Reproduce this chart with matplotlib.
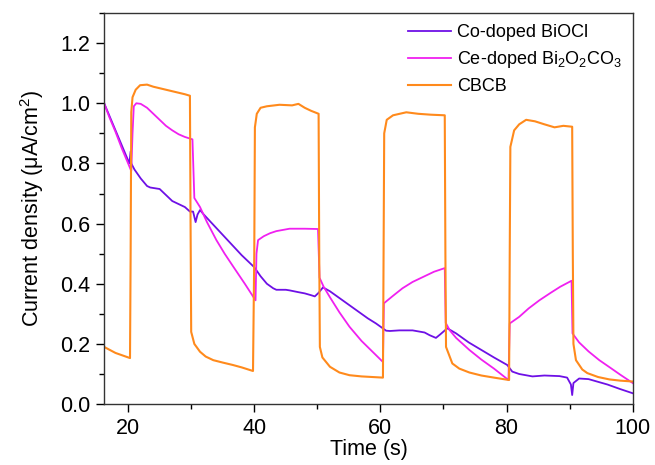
import matplotlib
matplotlib.use("Agg")
import matplotlib.pyplot as plt
from matplotlib.ticker import MultipleLocator

plt.rcParams['font.family'] = ['Liberation Sans', 'DejaVu Sans']
plt.rcParams['mathtext.fontset'] = 'custom'
plt.rcParams['mathtext.rm'] = 'Liberation Sans'
plt.rcParams['mathtext.it'] = 'Liberation Sans'
plt.rcParams['mathtext.default'] = 'regular'

# Co-doped BiOCl
t_co = [16.2, 17, 18, 19, 20.2, 20.4, 20.5, 21, 22, 23, 23.5, 25, 26, 27, 28, 29, 29.8,
        30.3, 30.7, 31.0, 31.4, 32, 34, 36, 38, 40, 40.5, 41, 41.4, 42, 43, 43.5, 45,
        45.6, 47, 48, 49, 49.6, 50.2, 50.9, 52, 54, 56, 58, 59.3, 60.9, 61.5, 63, 65.1,
        67, 67.8, 68.8, 69.5, 70.6, 72, 74, 76, 78, 80.1, 80.9, 82, 84.1, 86, 88.4,
        89.6, 90.2, 90.4, 90.6, 91.5, 93, 96, 98, 100]
j_co = [1.0, 0.96, 0.91, 0.86, 0.80, 0.84, 0.80, 0.78, 0.75, 0.725, 0.72, 0.715, 0.695,
        0.675, 0.665, 0.655, 0.64, 0.64, 0.605, 0.63, 0.645, 0.63, 0.585, 0.54, 0.495,
        0.455, 0.44, 0.425, 0.415, 0.40, 0.385, 0.38, 0.38, 0.378, 0.372, 0.368, 0.362,
        0.358, 0.37, 0.388, 0.375, 0.345, 0.315, 0.285, 0.268, 0.244, 0.243, 0.245,
        0.245, 0.238, 0.229, 0.22, 0.232, 0.252, 0.235, 0.205, 0.18, 0.155, 0.13, 0.108,
        0.1, 0.092, 0.095, 0.093, 0.088, 0.065, 0.03, 0.07, 0.085, 0.083, 0.065, 0.05,
        0.036]

# Ce-doped Bi2O2CO3
t_ce = [16.2, 17, 18, 19, 20.5, 20.7, 20.9, 21.3, 22, 23, 24, 25, 26, 27, 28, 29, 30.2,
        30.4, 30.5, 31.4, 32.5, 34.0, 35.3, 36.7, 38.5, 40.2, 40.35, 40.6, 41.5, 42.5,
        43.5, 45.6, 48, 50.1, 50.35, 51, 52, 53.5, 55.1, 57, 58.7, 60.4, 60.55, 62,
        63.5, 65.1, 67, 68.5, 70.2, 70.35, 71, 72, 74.1, 76, 78, 80.3, 80.5, 82, 83.5,
        85.2, 87, 88.5, 90.3, 90.45, 91.5, 93, 94.7, 96.5, 98, 100]
j_ce = [1.0, 0.955, 0.905, 0.85, 0.775, 0.9, 0.99, 1.0, 0.998, 0.985, 0.965, 0.945, 0.925,
        0.91, 0.897, 0.888, 0.88, 0.75, 0.685, 0.655, 0.605, 0.545, 0.5, 0.456, 0.4,
        0.345, 0.5, 0.545, 0.558, 0.568, 0.575, 0.583, 0.583, 0.582, 0.42, 0.39, 0.355,
        0.305, 0.257, 0.21, 0.175, 0.14, 0.335, 0.36, 0.385, 0.406, 0.425, 0.44, 0.452,
        0.27, 0.245, 0.22, 0.18, 0.148, 0.118, 0.08, 0.268, 0.29, 0.318, 0.345, 0.37,
        0.39, 0.41, 0.235, 0.205, 0.175, 0.146, 0.12, 0.098, 0.07]

# CBCB
t_cb = [16.2, 18, 20.3, 20.4, 20.5, 20.7, 21.2, 21.9, 23, 24, 25, 26, 27, 28, 29, 29.8,
        29.9, 30.0, 30.5, 31.4, 32.3, 33.5, 35, 36.6, 38, 39.8, 40.0, 40.1, 40.4, 41,
        42, 44, 46, 47, 48, 49, 50.2, 50.3, 50.4, 50.8, 52.0, 53.5, 55.1, 57, 60.4,
        60.5, 60.6, 61, 62, 64.1, 66, 68, 70.2, 70.3, 70.4, 71.4, 72.5, 74.1, 76, 78,
        80.4, 80.5, 80.6, 81.2, 82, 83.1, 84.5, 86, 87.6, 89, 90.4, 90.5, 90.6, 91.0,
        92.0, 92.8, 94.5, 96.3, 98, 100]
j_cb = [0.19, 0.17, 0.153, 0.5, 0.97, 1.02, 1.045, 1.06, 1.062, 1.055, 1.05, 1.045, 1.04,
        1.035, 1.03, 1.025, 0.6, 0.24, 0.2, 0.174, 0.158, 0.146, 0.138, 0.13, 0.122,
        0.11, 0.5, 0.92, 0.965, 0.985, 0.99, 0.995, 0.993, 0.998, 0.985, 0.975, 0.965, 0.5,
        0.19, 0.155, 0.124, 0.105, 0.096, 0.092, 0.088, 0.5, 0.9, 0.945, 0.96, 0.97,
        0.965, 0.962, 0.96, 0.5, 0.19, 0.135, 0.118, 0.105, 0.095, 0.088, 0.08, 0.5,
        0.855, 0.91, 0.93, 0.945, 0.94, 0.93, 0.92, 0.925, 0.922, 0.5, 0.2, 0.146, 0.115,
        0.103, 0.09, 0.082, 0.078, 0.075]

fig = plt.figure(figsize=(6.55, 4.65), dpi=100)
ax = fig.add_axes([0.159, 0.131, 0.807, 0.841])

ax.plot(t_co, j_co, color='#6E10E6', lw=1.3, label='Co-doped BiOCl')
ax.plot(t_ce, j_ce, color='#F020F0', lw=1.3, label='Ce-doped Bi$_2$O$_2$CO$_3$')
ax.plot(t_cb, j_cb, color='#FF8A1C', lw=1.5, label='CBCB')

ax.set_xlim(16.2, 100)
ax.set_ylim(0, 1.3)
ax.xaxis.set_major_locator(MultipleLocator(20))
ax.xaxis.set_minor_locator(MultipleLocator(10))
ax.yaxis.set_major_locator(MultipleLocator(0.2))
ax.yaxis.set_minor_locator(MultipleLocator(0.1))
ax.yaxis.set_major_formatter(matplotlib.ticker.FormatStrFormatter('%.1f'))
ax.tick_params(which='major', direction='out', length=6, width=1, labelsize=15.5, pad=4)
ax.tick_params(which='minor', direction='out', length=3.5, width=1)
for s in ax.spines.values():
    s.set_linewidth(1.0)
    s.set_color('#333333')

ax.set_xlabel('Time (s)', fontsize=15.5, labelpad=0)
ax.set_ylabel('Current density (μA/cm$^2$)', fontsize=15.5, labelpad=10)

ax.legend(loc='upper right', frameon=False, fontsize=13, handlelength=2.4,
          handletextpad=0.3, labelspacing=0.45, borderaxespad=0.2)

fig.savefig('out.png', dpi=100)
